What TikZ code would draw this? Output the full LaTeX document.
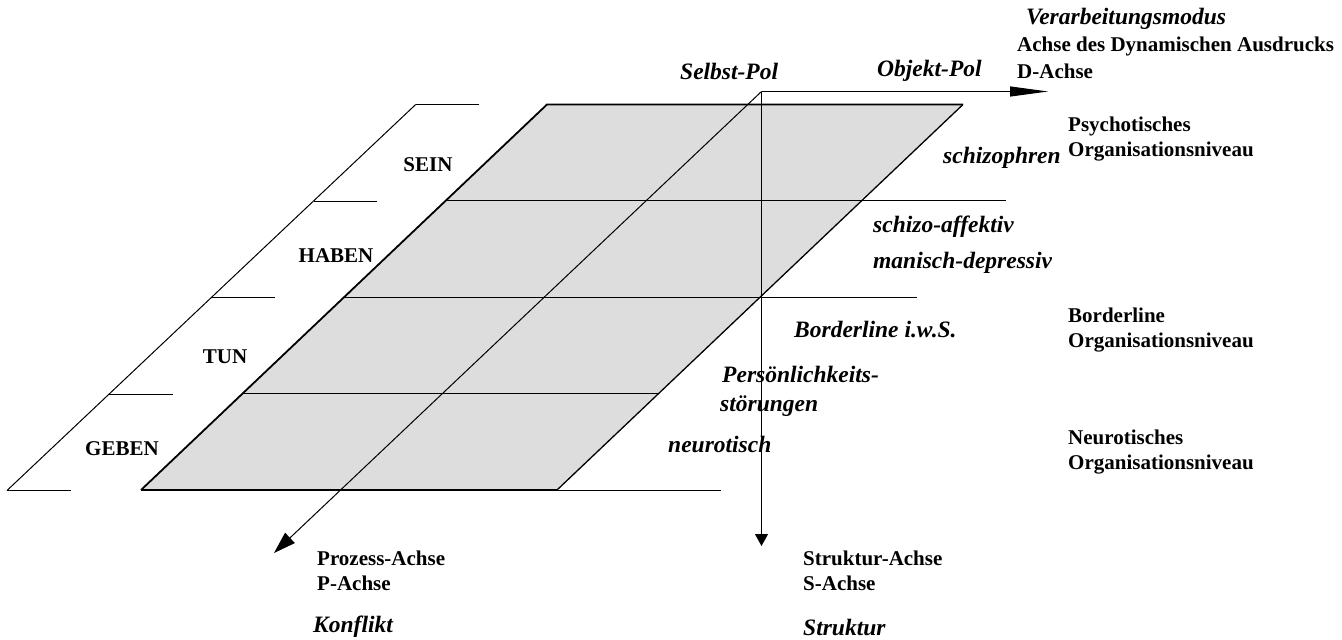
\documentclass[tikz,border=0pt]{standalone}
\usepackage{fontspec}
\setmainfont{Liberation Serif}
\usetikzlibrary{arrows.meta,calc}

\definecolor{planefill}{RGB}{221,221,221}

\tikzset{
  thinline/.style={line width=1pt, black},
  edgeline/.style={line width=1.8pt, black},
  axisline/.style={line width=1pt, black},
  boldlabel/.style={inner sep=0pt, anchor=west, align=left,
    font=\fontsize{21}{25}\selectfont\bfseries},
  itlabel/.style={inner sep=0pt, anchor=west, align=left,
    font=\fontsize{23.5}{29}\selectfont\bfseries\itshape},
  rowlabel/.style={inner sep=0pt, anchor=center,
    font=\fontsize{21}{25}\selectfont\bfseries},
}

\begin{document}
\begin{tikzpicture}[x=1pt,y=-1pt]
\useasboundingbox (0,0) rectangle (1342,640);

% corners of the plane
\coordinate (TL) at (547,104.5);
\coordinate (TR) at (963,104.5);
\coordinate (BR) at (557,490);
\coordinate (BL) at (141,490);

% the three axes start from a common origin
\coordinate (O)    at (761.5,91.5);
\coordinate (Dend) at (1048,91.5);
\coordinate (Send) at (761.5,546);
\coordinate (Pend) at (274,553);

% row boundaries on the left and right edges of the plane
\foreach \f/\n in {0.25/1,0.5/2,0.75/3}{
  \coordinate (L\n) at ($(TL)!\f!(BL)$);
  \coordinate (R\n) at ($(TR)!\f!(BR)$);
}

% ladder parallel to the left edge
\coordinate (KT) at (415.7,104.5);
\coordinate (KB) at (7,490.5);
\foreach \f/\n in {0/0,0.25/1,0.5/2,0.75/3,1/4}{
  \coordinate (K\n) at ($(KT)!\f!(KB)$);
}

% shaded plane
\fill[planefill] (TL) -- (TR) -- (BR) -- (BL) -- cycle;

% row lines, some of them running past the plane
\draw[thinline] (L1) -- (R1) -- ++(144.5,0) coordinate (E1);
\draw[thinline] (L2) -- (R2) -- ++(157.4,0) coordinate (E2);
\draw[thinline] (L3) -- (R3);
\draw[thinline] (BR) -- ++(163.7,0) coordinate (E4);

% outline of the plane
\draw[edgeline] (BL) -- (TL) -- (TR);
\draw[edgeline] (BL) -- (BR);
\draw[line width=1.3pt] (TR) -- (BR);

% ladder with its rungs
\draw[thinline] (KT) -- (KB);
\foreach \n in {0,...,4}{
  \draw[thinline] (K\n) -- ++(63.5,0);
}

% axes
\draw[axisline, -{Triangle[length=38pt,width=10pt]}] (O) -- (Dend);
\draw[axisline, -{Triangle[length=12pt,width=13pt]}] (O) -- (Send);
\draw[axisline, -{Triangle[length=22pt,width=14pt]}] (O) -- (Pend);

% labels of the rows
\node[rowlabel] (sein)  at (428,165) {SEIN};
\node[rowlabel] (haben) at (336,256) {HABEN};
\node[rowlabel] (tun)   at (225,357) {TUN};
\node[rowlabel] (geben) at (122,449) {GEBEN};

% D-axis
\node[itlabel]   (verarb) at (1026,19) {Verarbeitungsmodus};
\node[boldlabel] (dname)  at (1017,46) {Achse des Dynamischen Ausdrucks};
\node[boldlabel] (dshort) at (1017,71) {D-Achse};
\node[itlabel]   (selbst) at (680,71) {Selbst-Pol};
\node[itlabel]   (objekt) at (877,71) {Objekt-Pol};

% levels of organisation
\node[boldlabel] (psych)  at (1068,139.5) {Psychotisches\\Organisationsniveau};
\node[boldlabel] (border) at (1068,330.5) {Borderline\\Organisationsniveau};
\node[boldlabel] (neuro)  at (1068,452.5) {Neurotisches\\Organisationsniveau};

% diagnoses
\node[itlabel] (schiz)  at (943,158) {schizophren};
\node[itlabel] (schaff) at (873,227) {schizo-affektiv};
\node[itlabel] (manisch) at (873,263) {manisch-depressiv};
\node[itlabel] (bwS)    at (794,330) {Borderline i.w.S.};
\node[itlabel] (pers)   at (720,391.5) {\hspace*{2pt}Persönlichkeits-\\störungen};
\node[itlabel] (neurot) at (668,444) {neurotisch};

% P- and S-axis
\node[boldlabel] (pname) at (317,571) {Prozess-Achse\\P-Achse};
\node[itlabel]   (konfl) at (313,627) {Konflikt};
\node[boldlabel] (sname) at (803,571) {Struktur-Achse\\S-Achse};
\node[itlabel]   (strukt) at (803,627) {Struktur};
\end{tikzpicture}
\end{document}
